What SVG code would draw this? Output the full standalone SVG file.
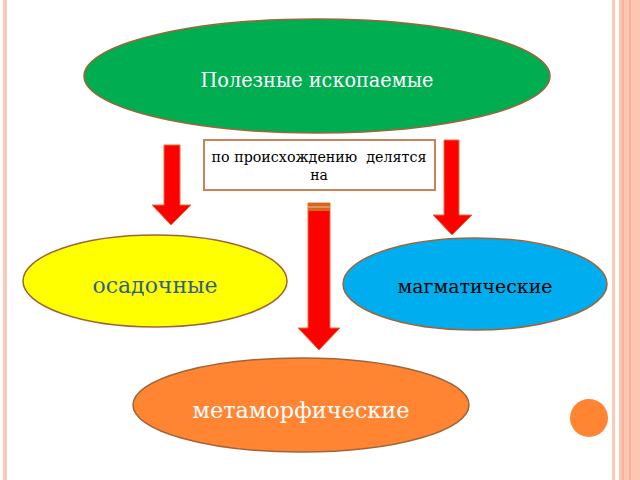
<svg xmlns="http://www.w3.org/2000/svg" width="640" height="480" viewBox="0 0 640 480">
<style>
.node{stroke:#A0643A;stroke-width:1.5}
.arrow{fill:#FF0000;stroke:#E8703A;stroke-width:1}
text{font-family:"DejaVu Serif","Liberation Serif",serif;text-anchor:middle}
</style>
<rect x="0" y="0" width="640" height="480" fill="#FFFFFF"/>
<g id="frame">
<rect x="3" y="0" width="4" height="480" fill="#FBC9B8"/>
<rect x="612" y="0" width="3" height="480" fill="#FBC9B8"/>
<rect x="619" y="0" width="21" height="480" fill="#FBC6B2"/>
<rect x="622" y="0" width="2" height="480" fill="#F7B49A"/>
<rect x="629" y="0" width="2" height="480" fill="#F7B49A"/>
<circle cx="589" cy="418" r="19" fill="#FF8533"/>
</g>
<g id="connectors">
<polygon class="arrow" points="164,145 180,145 180,205 191,205 171,225 152,205 164,205"/>
<polygon class="arrow" points="444,140 459,140 459,215 472,215 452,235 433,215 444,215"/>
<polygon class="arrow" points="308,203 330,203 330,328 340,328 319,350 298,328 308,328"/>
<rect x="308" y="203" width="22" height="8" fill="#D2691E"/>
<line x1="308" y1="207" x2="330" y2="207" stroke="#E8A070" stroke-width="1.5"/>
</g>
<g id="n-main">
<ellipse class="node" cx="317" cy="76" rx="233" ry="57" fill="#00AD50"/>
<text x="317" y="87" font-size="20" fill="#FFFFFF" textLength="233" lengthAdjust="spacingAndGlyphs">Полезные ископаемые</text>
</g>
<g id="n-label">
<rect x="204" y="140" width="231" height="50" fill="#FFFFFF" stroke="#C9825A" stroke-width="2"/>
<text x="319" y="162" font-size="14" fill="#000000" textLength="215" lengthAdjust="spacingAndGlyphs" xml:space="preserve">по происхождению  делятся</text>
<text x="319" y="180" font-size="14" fill="#000000">на</text>
</g>
<g id="n-sed">
<ellipse class="node" cx="155" cy="281" rx="132" ry="46" fill="#FFFF00"/>
<text x="155" y="293" font-size="22" fill="#2F6090" textLength="125" lengthAdjust="spacingAndGlyphs">осадочные</text>
</g>
<g id="n-mag">
<ellipse class="node" cx="475" cy="284" rx="132" ry="46" fill="#00AEEF"/>
<text x="475" y="293" font-size="19" fill="#000000" textLength="155" lengthAdjust="spacingAndGlyphs">магматические</text>
</g>
<g id="n-meta">
<ellipse class="node" cx="301" cy="405" rx="168" ry="47" fill="#FF8533"/>
<text x="301" y="418" font-size="22" fill="#FFFFFF" textLength="217" lengthAdjust="spacingAndGlyphs">метаморфические</text>
</g>
</svg>
